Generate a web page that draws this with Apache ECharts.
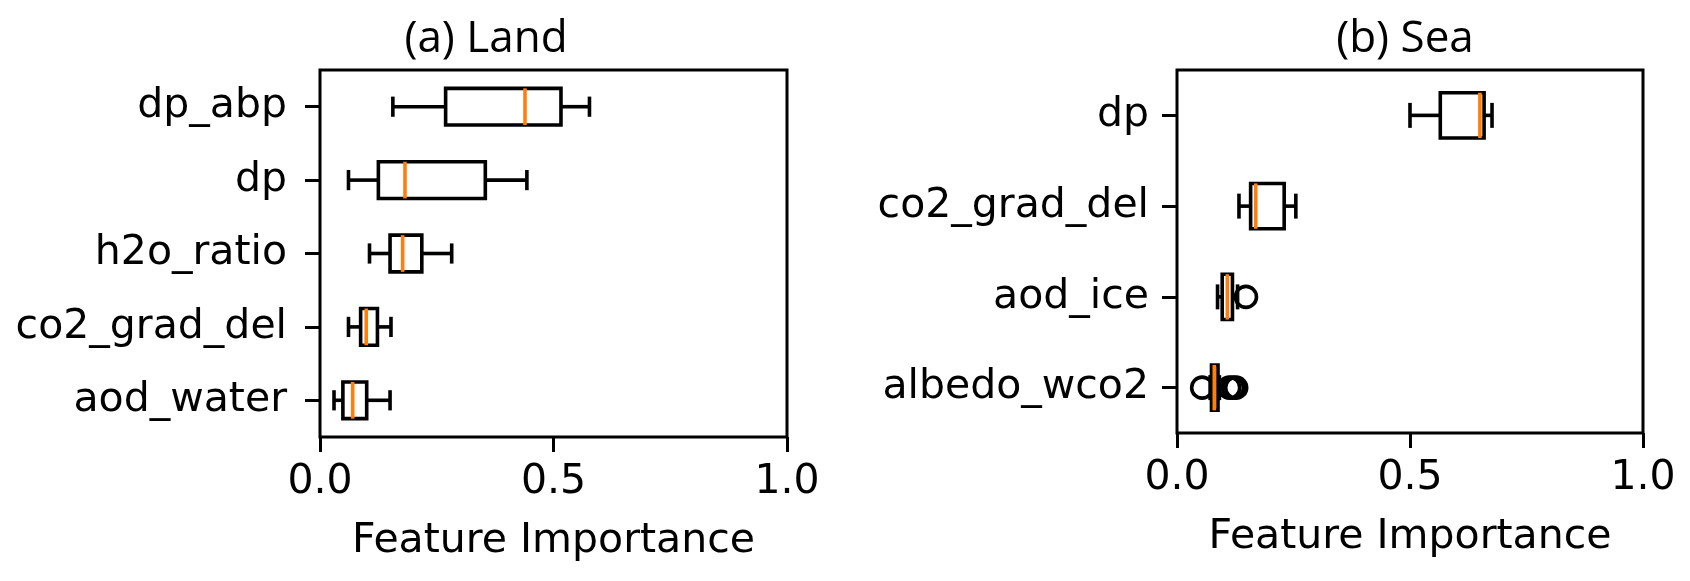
<!DOCTYPE html>
<html>
<head>
<meta charset="utf-8">
<script src="https://cdn.jsdelivr.net/npm/echarts@6/dist/echarts.min.js"></script>
<style>
html,body{margin:0;padding:0;background:#fff;}
#chart{width:1690px;height:581px;}
</style>
</head>
<body>
<div id="chart"></div>
<script>
// ---- Data ----
const landFeatures = ['dp_abp', 'dp', 'h2o_ratio', 'co2_grad_del', 'aod_water'];
const landLow    = [0.156, 0.061, 0.106, 0.061, 0.030];
const landQ1     = [0.269, 0.125, 0.150, 0.087, 0.049];
const landMedian = [0.439, 0.182, 0.177, 0.099, 0.070];
const landQ3     = [0.516, 0.354, 0.218, 0.123, 0.100];
const landHigh   = [0.577, 0.443, 0.282, 0.152, 0.150];

const seaFeatures = ['dp', 'co2_grad_del', 'aod_ice', 'albedo_wco2'];
const seaLow    = [0.500, 0.133, 0.087, 0.071];
const seaQ1     = [0.565, 0.158, 0.097, 0.074];
const seaMedian = [0.650, 0.169, 0.108, 0.080];
const seaQ3     = [0.659, 0.230, 0.119, 0.088];
const seaHigh   = [0.676, 0.255, 0.130, 0.091];
const seaOutlierFeature = ['aod_ice', 'albedo_wco2', 'albedo_wco2', 'albedo_wco2', 'albedo_wco2'];
const seaOutlierValue   = [0.148, 0.054, 0.112, 0.120, 0.127];

const xTicks = [0.0, 0.5, 1.0];
const titles = ['(a) Land', '(b) Sea'];
const xLabel = 'Feature Importance';

// ---- Build ----
function rows(low, q1, med, q3, high) {
  return low.map((v, i) => [i, low[i], q1[i], med[i], q3[i], high[i]]);
}
const LW = 3.6;
const BOX_RATIO = 0.5;
function renderBox(params, api) {
  const cat = api.value(0);
  const lo = api.coord([api.value(1), cat]);
  const q1 = api.coord([api.value(2), cat]);
  const md = api.coord([api.value(3), cat]);
  const q3 = api.coord([api.value(4), cat]);
  const hi = api.coord([api.value(5), cat]);
  const band = api.size([0, 1])[1];
  const bh = band * BOX_RATIO;
  const ch = bh * 0.55;
  const y = lo[1];
  const ls = {stroke: '#000', lineWidth: LW, fill: null};
  return {
    type: 'group',
    children: [
      {type: 'line', shape: {x1: lo[0], y1: y, x2: q1[0], y2: y}, style: ls},
      {type: 'line', shape: {x1: q3[0], y1: y, x2: hi[0], y2: y}, style: ls},
      {type: 'line', shape: {x1: lo[0], y1: y - ch / 2, x2: lo[0], y2: y + ch / 2}, style: ls},
      {type: 'line', shape: {x1: hi[0], y1: y - ch / 2, x2: hi[0], y2: y + ch / 2}, style: ls},
      {type: 'rect', shape: {x: q1[0], y: y - bh / 2, width: q3[0] - q1[0], height: bh}, style: {stroke: '#000', lineWidth: LW, fill: 'none'}},
      {type: 'line', z2: 10, shape: {x1: md[0], y1: y - bh / 2, x2: md[0], y2: y + bh / 2}, style: {stroke: '#ff7f0e', lineWidth: LW}}
    ]
  };
}

const FONT = 'DejaVu Sans';
const FS = 41;
function xAxisCfg(idx) {
  return {
    type: 'value', gridIndex: idx, min: 0, max: 1, interval: 0.5,
    axisLine: {show: false},
    axisTick: {show: true, inside: false, length: 15, lineStyle: {color: '#000', width: 3}},
    axisLabel: {color: '#000', fontFamily: FONT, fontSize: FS, margin: 25,
      formatter: v => v.toFixed(1)},
    splitLine: {show: false},
    name: xLabel, nameLocation: 'middle', nameGap: 84,
    nameTextStyle: {color: '#000', fontFamily: FONT, fontSize: FS}
  };
}
function yAxisCfg(idx, cats, margin) {
  return {
    type: 'category', gridIndex: idx, data: cats, inverse: true,
    axisLine: {show: false},
    axisTick: {show: true, inside: false, length: 15, alignWithLabel: true, lineStyle: {color: '#000', width: 3}},
    axisLabel: {color: '#000', fontFamily: FONT, fontSize: FS, margin: margin},
    splitLine: {show: false}
  };
}

const chart = echarts.init(document.getElementById('chart'), null, {renderer: 'canvas'});
chart.setOption({
  animation: false,
  backgroundColor: '#fff',
  grid: [
    {left: 320, top: 70, width: 467, height: 367, show: true, borderColor: '#000', borderWidth: 3, containLabel: false},
    {left: 1177, top: 70, width: 466, height: 363, show: true, borderColor: '#000', borderWidth: 3, containLabel: false}
  ],
  xAxis: [xAxisCfg(0), xAxisCfg(1)],
  yAxis: [yAxisCfg(0, landFeatures, 33), yAxisCfg(1, seaFeatures, 28)],
  graphic: [
    {type: 'text', x: 486, y: 39, style: {text: titles[0], fontFamily: 'Open Sans', fontSize: 44, fill: '#000', align: 'center', verticalAlign: 'middle'}},
    {type: 'text', x: 1405, y: 39, style: {text: titles[1], fontFamily: 'Open Sans', fontSize: 44, fill: '#000', align: 'center', verticalAlign: 'middle'}}
  ],
  series: [
    {type: 'custom', xAxisIndex: 0, yAxisIndex: 0, renderItem: renderBox,
      encode: {x: [1, 2, 3, 4, 5], y: 0},
      data: rows(landLow, landQ1, landMedian, landQ3, landHigh)},
    {type: 'custom', xAxisIndex: 1, yAxisIndex: 1, renderItem: renderBox,
      encode: {x: [1, 2, 3, 4, 5], y: 0},
      data: rows(seaLow, seaQ1, seaMedian, seaQ3, seaHigh)},
    {type: 'scatter', xAxisIndex: 1, yAxisIndex: 1, symbol: 'circle', symbolSize: 21, z: 1,
      itemStyle: {color: 'rgba(0,0,0,0)', borderColor: '#000', borderWidth: LW, opacity: 1},
      data: seaOutlierValue.map((v, i) => [v, seaOutlierFeature[i]])}
  ]
});
</script>
</body>
</html>
